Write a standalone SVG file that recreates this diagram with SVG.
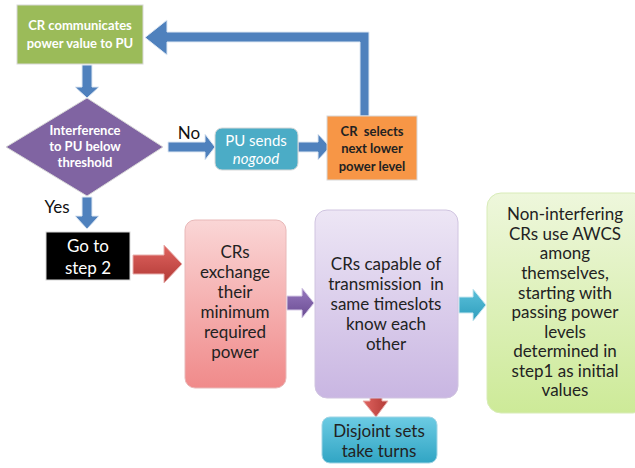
<svg xmlns="http://www.w3.org/2000/svg" width="635" height="468" viewBox="0 0 635 468">
<defs>
<linearGradient id="gPink" x1="0" y1="0" x2="0" y2="1"><stop offset="0" stop-color="#FAD6D6"/><stop offset="1" stop-color="#F08A8A"/></linearGradient>
<linearGradient id="gLav" x1="0" y1="0" x2="0" y2="1"><stop offset="0" stop-color="#EDE6F5"/><stop offset="1" stop-color="#C9B6E2"/></linearGradient>
<linearGradient id="gLime" x1="0" y1="0" x2="0" y2="1"><stop offset="0" stop-color="#EEF7DC"/><stop offset="1" stop-color="#CDEA98"/></linearGradient>
<linearGradient id="gTeal" x1="0" y1="0" x2="0" y2="1"><stop offset="0" stop-color="#6CCBE3"/><stop offset="1" stop-color="#31A5C4"/></linearGradient>
<linearGradient id="gRed" x1="0" y1="0" x2="0" y2="1"><stop offset="0" stop-color="#E06460"/><stop offset="1" stop-color="#B23A36"/></linearGradient>
<linearGradient id="gRedV" x1="0" y1="0" x2="1" y2="0"><stop offset="0" stop-color="#E06460"/><stop offset="1" stop-color="#B23A36"/></linearGradient>
<linearGradient id="gPurp" x1="0" y1="0" x2="0" y2="1"><stop offset="0" stop-color="#9678BE"/><stop offset="1" stop-color="#6A4C92"/></linearGradient>
<linearGradient id="gCyan" x1="0" y1="0" x2="0" y2="1"><stop offset="0" stop-color="#5BC0DA"/><stop offset="1" stop-color="#2E9EBD"/></linearGradient>
</defs>
<style>
.t{font-family:Lato,"Liberation Sans",sans-serif;text-anchor:middle}
.wb{fill:#fff;font-weight:bold;font-size:13px}
.dk{fill:#222;font-size:17px}
.sh{stroke:#d8d8d8;stroke-width:1}
.blue{fill:#4F81BD;stroke:#dfe8f3;stroke-width:1}
</style>
<rect width="635" height="468" fill="#fff"/>
<g id="connectors">
  <path class="blue" d="M82,65 H92 V87 H99 L87,98 L75,87 H82 Z"/>
  <path class="blue" d="M168,142 H205 V134 L215,147 L205,160 V152 H168 Z"/>
  <path class="blue" d="M298,142 H318 V134 L330,147 L318,160 V152 H298 Z"/>
  <path class="blue" d="M360,116 V42 H167 V55 L145,37.5 L167,20 V32 H369 V116 Z"/>
  <path class="blue" d="M82,197 H92 V216 H99 L87,229 L75,216 H82 Z"/>
  <path fill="url(#gRed)" stroke="#e9b0ae" d="M133,255 H164 V245 L182,264 L164,283 V274 H133 Z"/>
  <path fill="url(#gPurp)" stroke="#d8cce8" d="M287,296 H302 V288 L314,303 L302,318 V310 H287 Z"/>
  <path fill="url(#gCyan)" stroke="#c8e8f0" d="M459,297 H473 V289 L486,305 L473,321 V313 H459 Z"/>
  <path fill="url(#gRedV)" stroke="#e9b0ae" d="M370,390 H382 V401 H388 L376,417 L363,401 H370 Z"/>
</g>
<g id="n-cr-communicates">
  <rect x="17" y="5" width="126" height="59" fill="#9BBB59" class="sh"/>
  <text class="t wb" x="80" y="30">CR communicates</text>
  <text class="t wb" x="80" y="48">power value to PU</text>
</g>
<g id="n-interference">
  <polygon points="87,98 163,147 87,196 6,147" fill="#8064A2" class="sh"/>
  <text class="t wb" x="85" y="135">Interference</text>
  <text class="t wb" x="85" y="151">to PU below</text>
  <text class="t wb" x="85" y="167">threshold</text>
</g>
<text class="t" x="189" y="139" style="font-size:17px;fill:#111">No</text>
<text class="t" x="57" y="213" style="font-size:17px;fill:#111">Yes</text>
<g id="n-pu-sends">
  <rect x="215" y="128" width="83" height="42" rx="7" fill="#4BACC6" class="sh"/>
  <text class="t" x="256" y="146" style="font-size:15px;fill:#fff">PU sends</text>
  <text class="t" x="256" y="164" style="font-size:15px;fill:#fff;font-style:italic">nogood</text>
</g>
<g id="n-cr-selects">
  <rect x="327" y="116" width="90" height="64" fill="#F79646" class="sh"/>
  <text class="t" x="372" y="136" style="font-size:13px;font-weight:bold;fill:#222" xml:space="preserve">CR  selects</text>
  <text class="t" x="372" y="153" style="font-size:13px;font-weight:bold;fill:#222">next lower</text>
  <text class="t" x="372" y="171" style="font-size:13px;font-weight:bold;fill:#222">power level</text>
</g>
<g id="n-goto">
  <rect x="46" y="232" width="84" height="48" fill="#000" class="sh"/>
  <text class="t" x="88" y="252" style="font-size:17px;fill:#fff">Go to</text>
  <text class="t" x="88" y="274" style="font-size:17px;fill:#fff">step 2</text>
</g>
<g id="n-exchange">
  <rect x="185" y="220" width="101" height="168" rx="10" fill="url(#gPink)" stroke="#e8b8b8"/>
  <text class="t dk" x="235" y="258">CRs</text>
  <text class="t dk" x="235" y="278">exchange</text>
  <text class="t dk" x="235" y="298">their</text>
  <text class="t dk" x="235" y="318">minimum</text>
  <text class="t dk" x="235" y="338">required</text>
  <text class="t dk" x="235" y="358">power</text>
</g>
<g id="n-capable">
  <rect x="315" y="210" width="143" height="188" rx="12" fill="url(#gLav)" stroke="#d0c4e0"/>
  <text class="t dk" x="386" y="270">CRs capable of</text>
  <text class="t dk" x="386" y="290" xml:space="preserve">transmission  in</text>
  <text class="t dk" x="386" y="310">same timeslots</text>
  <text class="t dk" x="386" y="330">know each</text>
  <text class="t dk" x="386" y="350">other</text>
</g>
<g id="n-noninterfering">
  <rect x="487" y="193" width="160" height="220" rx="14" fill="url(#gLime)" stroke="#d8ecb8"/>
  <text class="t dk" x="565" y="220">Non-interfering</text>
  <text class="t dk" x="565" y="240">CRs use AWCS</text>
  <text class="t dk" x="565" y="259">among</text>
  <text class="t dk" x="565" y="279">themselves,</text>
  <text class="t dk" x="565" y="299">starting with</text>
  <text class="t dk" x="565" y="318">passing power</text>
  <text class="t dk" x="565" y="338">levels</text>
  <text class="t dk" x="565" y="357">determined in</text>
  <text class="t dk" x="565" y="377">step1 as initial</text>
  <text class="t dk" x="565" y="396">values</text>
</g>
<g id="n-disjoint">
  <rect x="322" y="417" width="115" height="46" rx="8" fill="url(#gTeal)" stroke="#9fd4e4"/>
  <text class="t dk" x="379" y="437">Disjoint sets</text>
  <text class="t dk" x="379" y="457">take turns</text>
</g>
</svg>
